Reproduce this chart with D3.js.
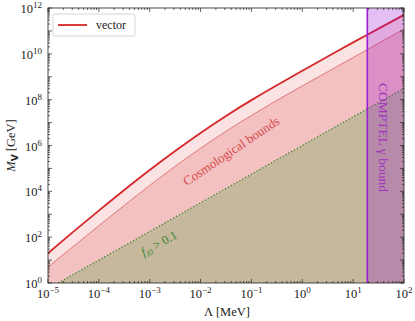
<!DOCTYPE html>
<html>
<head>
<meta charset="utf-8">
<script src="https://cdn.jsdelivr.net/npm/d3@7"></script>
<style>
  body { margin: 0; background: #fff; }
  text { font-family: "Liberation Serif", "DejaVu Serif", serif; }
</style>
</head>
<body>
<svg id="chart" width="415" height="321"></svg>
<script>
// log10 of Lambda [MeV]
let logLambda = [-5, -4.5, -4, -3.5, -3, -2.5, -2, -1.5, -1, -0.5, 0, 0.5, 1, 1.5, 2]
// log10 of M_V [GeV], thick "vector" curve and the thin curve below it
let vectorLog = [1.3, 2.24, 3.16, 4.06, 4.93, 5.76, 6.55, 7.29, 7.98, 8.63, 9.26, 9.88, 10.5, 11.1, 11.7]
let lowerLog  = [0.7, 1.6, 2.5, 3.39, 4.26, 5.09, 5.88, 6.62, 7.31, 7.97, 8.6, 9.22, 9.84, 10.46, 11.08]
// f_i0 > 0.1 boundary (dotted green), straight in log-log
let fLambdaLog = [-4.8, 2]
let fMassLog = [0, 8.5]
// COMPTEL bound starts here (MeV)
let comptelMin = 19
let xTicks = [-5, -4, -3, -2, -1, 0, 1, 2]
let yTicks = [0, 2, 4, 6, 8, 10, 12]

let margin = { left: 48, right: 11, top: 8, bottom: 38 }
let width = 415, height = 321

let svg = d3.select('#chart')

let x = d3.scaleLog().domain([1e-5, 1e2]).range([margin.left, width - margin.right])
let y = d3.scaleLog().domain([1, 1e12]).range([height - margin.bottom, margin.top])
let p10 = e => Math.pow(10, e)

let pts = logLambda.map((l, i) => ({ L: p10(l), hi: p10(vectorLog[i]), lo: p10(lowerLog[i]) }))
let fPts = fLambdaLog.map((l, i) => ({ L: p10(l), M: p10(fMassLog[i]) }))

svg.append('defs').append('clipPath').attr('id', 'clip')
    .append('rect')
    .attr('x', x.range()[0]).attr('y', y.range()[1])
    .attr('width', x.range()[1] - x.range()[0])
    .attr('height', y.range()[0] - y.range()[1])

let g = svg.append('g').attr('clip-path', 'url(#clip)')
let curve = d3.curveMonotoneX

// band between the two red curves
g.append('path')
    .datum(pts)
    .attr('fill', '#fbe3e3')
    .attr('d', d3.area().curve(curve).x(d => x(d.L)).y0(d => y(d.lo)).y1(d => y(d.hi)))

// region below thin curve
g.append('path')
    .datum(pts)
    .attr('fill', '#f3c1c1')
    .attr('d', d3.area().curve(curve).x(d => x(d.L)).y0(y(1)).y1(d => y(d.lo)))

// f_i0 region
let fArea = [fPts[0], fPts[1], { L: fPts[1].L, M: 1 }]
g.append('path')
    .attr('fill', '#c5b89d')
    .attr('d', d3.line().x(d => x(d.L)).y(d => y(d.M))(fArea) + 'Z')

g.append('path')
    .datum(fPts)
    .attr('fill', 'none')
    .attr('stroke', '#3d8a2e')
    .attr('stroke-width', 1.3)
    .attr('stroke-dasharray', '1.3,2')
    .attr('d', d3.line().x(d => x(d.L)).y(d => y(d.M)))

g.append('path')
    .datum(pts)
    .attr('fill', 'none')
    .attr('stroke', '#e06a6a')
    .attr('stroke-width', 0.9)
    .attr('d', d3.line().curve(curve).x(d => x(d.L)).y(d => y(d.lo)))

g.append('path')
    .datum(pts)
    .attr('fill', 'none')
    .attr('stroke', '#d62728')
    .attr('stroke-width', 1.8)
    .attr('d', d3.line().curve(curve).x(d => x(d.L)).y(d => y(d.hi)))

// COMPTEL band
g.append('rect')
    .attr('x', x(comptelMin)).attr('y', y(1e12))
    .attr('width', x(1e2) - x(comptelMin))
    .attr('height', y(1) - y(1e12))
    .attr('fill', 'darkviolet')
    .attr('fill-opacity', 0.25)
g.append('line')
    .attr('x1', x(comptelMin)).attr('x2', x(comptelMin))
    .attr('y1', y(1e12)).attr('y2', y(1))
    .attr('stroke', '#9b1fd6')
    .attr('stroke-width', 1.6)

// labels inside plot
svg.append('text')
    .attr('transform', `translate(${x(p10(1.5))},${y(p10(6.35))}) rotate(90)`)
    .attr('text-anchor', 'middle')
    .attr('font-size', 13.5)
    .attr('fill', '#a030c0')
    .text('COMPTEL γ bound')

svg.append('text')
    .attr('transform', `translate(${x(p10(-1.35))},${y(p10(5.6))}) rotate(-34)`)
    .attr('text-anchor', 'middle')
    .attr('font-size', 13)
    .attr('fill', '#d84a4a')
    .text('Cosmological bounds')

let ft = svg.append('text')
    .attr('transform', `translate(${x(p10(-2.78))},${y(p10(1.57))}) rotate(-29)`)
    .attr('text-anchor', 'middle')
    .attr('font-size', 12.5)
    .attr('fill', '#3d8a2e')
ft.append('tspan').attr('font-style', 'italic').text('f')
ft.append('tspan').attr('font-size', 9).attr('dy', 2.5).attr('font-style', 'italic').text('i0')
ft.append('tspan').attr('dy', -2.5).text(' > 0.1')

// frame
svg.append('rect')
    .attr('x', x.range()[0]).attr('y', y.range()[1])
    .attr('width', x.range()[1] - x.range()[0])
    .attr('height', y.range()[0] - y.range()[1])
    .attr('fill', 'none')
    .attr('stroke', '#222')
    .attr('stroke-width', 0.8)

// ticks (inward, all sides)
let ticks = svg.append('g').attr('stroke', '#222').attr('stroke-width', 0.7)
let x0 = x.range()[0], x1 = x.range()[1], y0 = y.range()[0], y1 = y.range()[1]
for (let e = -5; e <= 2; e++) {
    for (let m = 1; m <= 9; m++) {
        let v = m * p10(e)
        if (v > 1e2) continue
        let len = m === 1 ? 4 : 2
        let px = x(v)
        ticks.append('line').attr('x1', px).attr('x2', px).attr('y1', y0).attr('y2', y0 - len)
        ticks.append('line').attr('x1', px).attr('x2', px).attr('y1', y1).attr('y2', y1 + len)
    }
}
for (let e = 0; e <= 12; e++) {
    for (let m = 1; m <= 9; m++) {
        let v = m * p10(e)
        if (v > 1e12) continue
        let len = m === 1 ? 4 : 2
        let py = y(v)
        ticks.append('line').attr('y1', py).attr('y2', py).attr('x1', x0).attr('x2', x0 + len)
        ticks.append('line').attr('y1', py).attr('y2', py).attr('x1', x1).attr('x2', x1 - len)
    }
}

// tick labels
xTicks.forEach(e => {
    let t = svg.append('text')
        .attr('x', x(p10(e)))
        .attr('y', y0 + 15)
        .attr('text-anchor', 'middle')
        .attr('font-size', 12.5)
        .attr('fill', '#222')
    t.append('tspan').text('10')
    t.append('tspan').attr('font-size', 9).attr('dy', -5).text(e < 0 ? '−' + (-e) : e)
})
yTicks.forEach(e => {
    let t = svg.append('text')
        .attr('x', x0 - 6)
        .attr('y', y(p10(e)) + 5)
        .attr('text-anchor', 'end')
        .attr('font-size', 12.5)
        .attr('fill', '#222')
    t.append('tspan').text('10')
    t.append('tspan').attr('font-size', 9).attr('dy', -5).text(e)
})

// axis titles
svg.append('text')
    .attr('x', 227)
    .attr('y', 316)
    .attr('text-anchor', 'middle')
    .attr('font-size', 12.5)
    .attr('fill', '#222')
    .text('Λ [MeV]')

let yl = svg.append('text')
    .attr('transform', `translate(15,${(y0 + y1) / 2}) rotate(-90)`)
    .attr('text-anchor', 'middle')
    .attr('font-size', 12.5)
    .attr('fill', '#222')
yl.append('tspan').attr('font-style', 'italic').text('M')
yl.append('tspan').attr('font-size', 9).attr('dy', 2.5).attr('font-weight', 'bold')
    .attr('font-family', 'DejaVu Sans').text('V')
yl.append('tspan').attr('dy', -2.5).text(' [GeV]')

// legend
let lg = svg.append('g').attr('transform', 'translate(53,14)')
lg.append('rect').attr('width', 82).attr('height', 22).attr('rx', 2)
    .attr('fill', '#fff').attr('fill-opacity', 0.85)
    .attr('stroke', '#ccc').attr('stroke-width', 0.8)
lg.append('line').attr('x1', 5).attr('x2', 34).attr('y1', 11).attr('y2', 11)
    .attr('stroke', '#d62728').attr('stroke-width', 1.8)
lg.append('text').attr('x', 43).attr('y', 15).attr('font-size', 12).attr('fill', '#222').text('vector')
</script>
</body>
</html>
